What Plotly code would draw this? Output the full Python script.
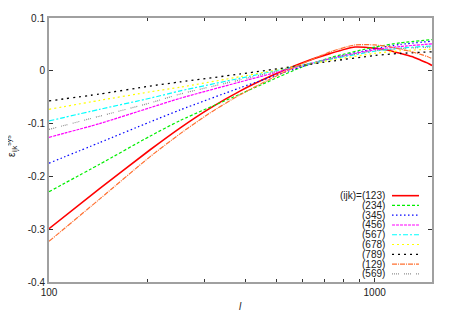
import plotly.graph_objects as go

# ---- data ----
X_MAIN = [100, 143, 204, 253, 387, 592, 732, 1000, 1200, 1500]
X_PEAK = [100, 143, 204, 253, 310, 387, 480, 592, 732, 870, 1000, 1100, 1200, 1300, 1385, 1450, 1500]

Y_123 = [-0.299, -0.223, -0.150, -0.108, -0.072, -0.038, -0.010, 0.014, 0.033, 0.045, 0.043,
         0.039, 0.033, 0.027, 0.020, 0.015, 0.010]
Y_129 = [-0.323, -0.243, -0.163, -0.119, -0.081, -0.045, -0.015, 0.012, 0.036, 0.049, 0.049,
         0.046, 0.041, 0.036, 0.031, 0.027, 0.023]
Y_234 = [-0.229, -0.177, -0.124, -0.094, -0.044, 0.006, 0.025, 0.045, 0.053, 0.059]
Y_345 = [-0.175, -0.136, -0.097, -0.074, -0.032, 0.007, 0.023, 0.042, 0.050, 0.056]
Y_456 = [-0.126, -0.100, -0.070, -0.052, -0.021, 0.009, 0.023, 0.040, 0.046, 0.051]
Y_567 = [-0.095, -0.073, -0.052, -0.038, -0.014, 0.010, 0.022, 0.037, 0.043, 0.047]
Y_678 = [-0.073, -0.056, -0.040, -0.031, -0.011, 0.010, 0.020, 0.033, 0.038, 0.041]
Y_789 = [-0.057, -0.044, -0.029, -0.021, -0.006, 0.010, 0.018, 0.029, 0.033, 0.036]
Y_569 = [-0.111, -0.086, -0.061, -0.044, -0.017, 0.010, 0.023, 0.038, 0.042, 0.045]

LABELS = ["(ijk)=(123)", "(234)", "(345)", "(456)", "(567)", "(678)", "(789)", "(129)", "(569)"]

Y_TICKS = [0.1, 0, -0.1, -0.2, -0.3, -0.4]
Y_TICK_LABELS = ["0.1", "0", "-0.1", "-0.2", "-0.3", "-0.4"]
X_TICKS = [100, 1000]
X_TICK_LABELS = ["100", "1000"]
X_MINOR = [200, 300, 400, 500, 600, 700, 800, 900]

series = [
    (X_PEAK, Y_123, "#ff0000", "solid", 1.6),
    (X_MAIN, Y_234, "#00ee00", "3px,2px", 1.2),
    (X_MAIN, Y_345, "#0000ff", "1.5px,2.5px", 1.2),
    (X_MAIN, Y_456, "#ff00ff", "3px,1px", 1.2),
    (X_MAIN, Y_567, "#00ffff", "5px,2px,2px,2px", 1.2),
    (X_MAIN, Y_678, "#ffff00", "2px,3px", 1.2),
    (X_MAIN, Y_789, "#000000", "2px,4px", 1.3),
    (X_PEAK, Y_129, "#ff7030", "5px,1px,1px,1px", 1.2),
    (X_MAIN, Y_569, "#909090", "1px,1px,1px,1px,1px,1px,1px,5px", 1.2),
]

fig = go.Figure()
for (xs, ys, col, dash, w), lab in zip(series, LABELS):
    fig.add_trace(go.Scatter(x=xs, y=ys, mode="lines", name=lab,
                             line=dict(color=col, dash=dash, width=w, shape="spline", smoothing=0.6),
                             showlegend=False))

# manual legend: text right-aligned, sample to its right (gnuplot style)
row0 = 0.327
step = 0.037
for i, ((xs, ys, col, dash, w), lab) in enumerate(zip(series, LABELS)):
    yy = row0 - i * step
    fig.add_annotation(x=0.879, y=yy, xref="paper", yref="paper", text=lab,
                       showarrow=False, xanchor="right", yanchor="middle", borderpad=0,
                       font=dict(size=10, color="#222"))
    fig.add_shape(type="line", xref="paper", yref="paper", x0=0.8956, x1=0.966, y0=yy, y1=yy,
                  line=dict(color=col, dash=dash, width=w))

fig.add_annotation(x=-0.097, y=0.515, xref="paper", yref="paper", xanchor="center", yanchor="middle",
                   text="ε<sub>ijk</sub><sup>sys</sup>", textangle=-90, showarrow=False,
                   font=dict(size=10, color="#222"))
fig.add_annotation(x=0.499, y=-0.093, xref="paper", yref="paper", xanchor="center", yanchor="middle",
                   text="<i>l</i>", showarrow=False, font=dict(size=10, color="#222"))

axis_common = dict(showline=True, linecolor="#a0a0a0", linewidth=2, mirror="ticks",
                   ticks="inside", ticklen=4, tickcolor="#333", tickwidth=1,
                   showgrid=False, zeroline=False, tickfont=dict(size=10, color="#222"))
fig.update_xaxes(type="log", range=[2, 3.1761], tickmode="array", tickvals=X_TICKS,
                 ticktext=X_TICK_LABELS,
                 minor=dict(tickmode="array", tickvals=X_MINOR, ticks="inside", ticklen=3,
                            tickcolor="#333", showgrid=False),
                 **axis_common)
fig.update_yaxes(range=[-0.4, 0.1], tickmode="array", tickvals=Y_TICKS, ticktext=Y_TICK_LABELS,
                 **axis_common)

fig.update_layout(width=442, height=307, margin=dict(l=41, r=18, t=4, b=33),
                  plot_bgcolor="white", paper_bgcolor="white",
                  font=dict(family="Liberation Sans, Arial, sans-serif", size=10, color="#222"))

fig.write_html("out.html")
